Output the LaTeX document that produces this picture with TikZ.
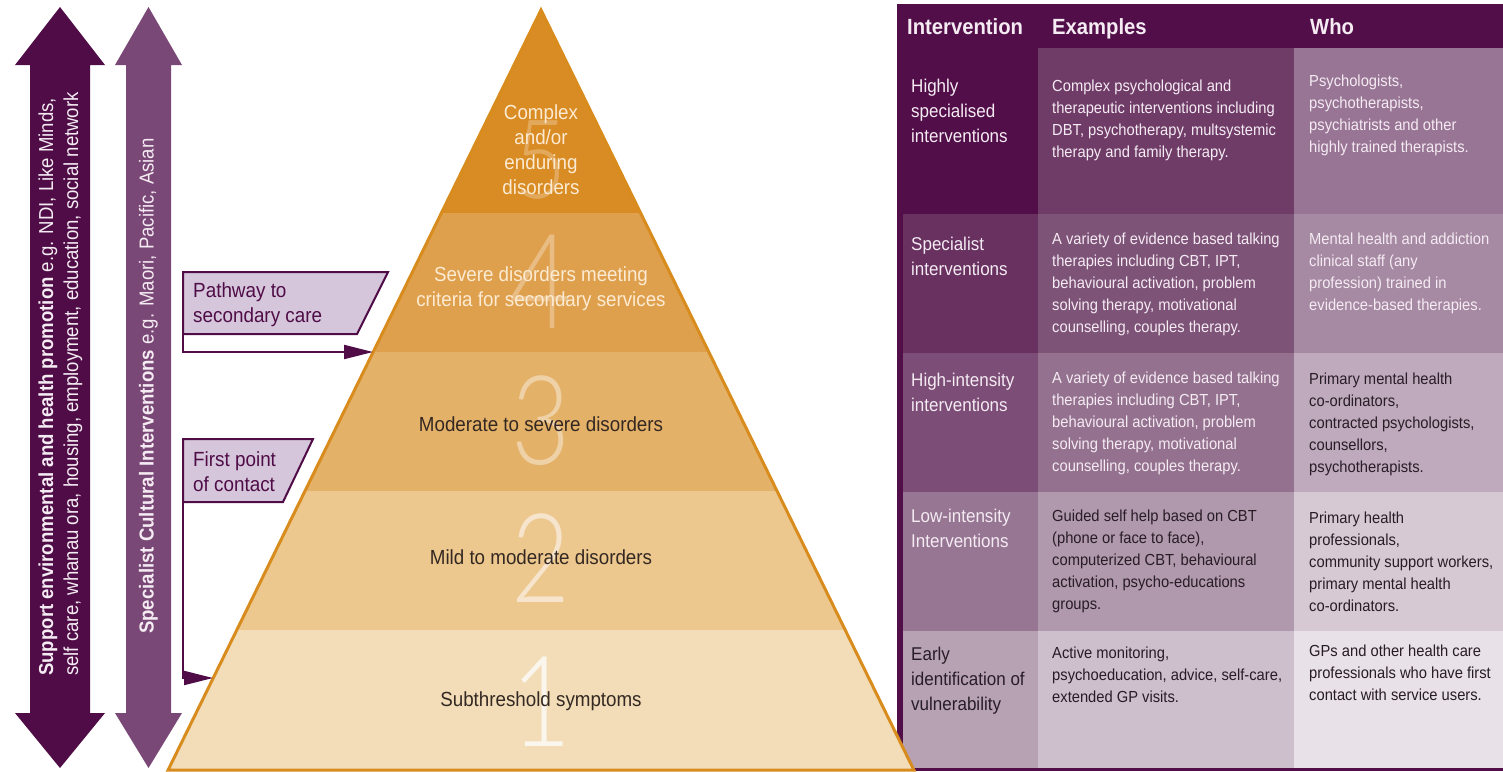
\documentclass[tikz,border=0pt]{standalone}
\usepackage{fontspec}
\setmainfont{Liberation Sans}[FakeStretch=0.92]
\IfFontExistsTF{Lato Light}{\newfontfamily\digitfont{Lato Light}[FakeStretch=0.82]}{%
  \IfFontExistsTF{Fira Sans Light}{\newfontfamily\digitfont{Fira Sans Light}[FakeStretch=0.82]}{%
    \IfFontExistsTF{Open Sans Light}{\newfontfamily\digitfont{Open Sans Light}[FakeStretch=0.82]}{%
      \newfontfamily\digitfont{Liberation Sans}[FakeStretch=0.8]}}}
\usetikzlibrary{arrows.meta}
\definecolor{arrA}{RGB}{79,12,71}
\definecolor{arrB}{RGB}{122,72,118}
\definecolor{boxfill}{RGB}{213,198,219}
\definecolor{boxline}{RGB}{79,12,71}
\definecolor{pyrL5}{RGB}{217,139,36}
\definecolor{pyrL4}{RGB}{223,160,78}
\definecolor{pyrL3}{RGB}{228,177,105}
\definecolor{pyrL2}{RGB}{236,199,142}
\definecolor{pyrL1}{RGB}{242,221,184}
\definecolor{pyrline}{RGB}{217,140,30}
\definecolor{pyrlight}{RGB}{252,235,210}
\definecolor{pyrdark}{RGB}{52,40,34}
\definecolor{hdr}{RGB}{82,14,73}
\definecolor{rAa}{RGB}{82,14,73}
\definecolor{rAb}{RGB}{111,60,104}
\definecolor{rAc}{RGB}{152,117,148}
\definecolor{rBa}{RGB}{104,49,96}
\definecolor{rBb}{RGB}{126,83,120}
\definecolor{rBc}{RGB}{166,137,162}
\definecolor{rCa}{RGB}{124,77,118}
\definecolor{rCb}{RGB}{148,114,143}
\definecolor{rCc}{RGB}{190,170,188}
\definecolor{rDa}{RGB}{151,118,147}
\definecolor{rDb}{RGB}{176,152,173}
\definecolor{rDc}{RGB}{214,201,212}
\definecolor{rEa}{RGB}{183,162,180}
\definecolor{rEb}{RGB}{205,191,203}
\definecolor{rEc}{RGB}{232,225,231}
\definecolor{tlight}{RGB}{245,235,243}
\definecolor{tdark}{RGB}{40,28,38}
\begin{document}
\begin{tikzpicture}[x=1pt,y=-1pt,
  cellA/.style={anchor=north west, inner sep=0pt, align=left, font=\fontsize{18.5}{25}\selectfont},
  cellB/.style={anchor=north west, inner sep=0pt, align=left, font=\fontsize{16}{22}\selectfont},
  hdrtext/.style={anchor=base west, inner sep=0pt, text=tlight, font=\fontsize{22}{24}\selectfont\bfseries},
  pyrtext/.style={inner sep=0pt, align=center, font=\fontsize{20.4}{25}\selectfont},
  bigdigit/.style={inner sep=0pt, text=white, font=\digitfont\fontsize{#1}{#1}\selectfont},
  sidetext/.style={rotate=90, anchor=west, inner sep=0pt, align=left, text=tlight, font=\fontsize{20.2}{25}\selectfont},
  tagbox/.style={fill=boxfill, draw=boxline, line width=2pt},
  tagtext/.style={anchor=north west, inner sep=0pt, align=left, text=boxline, font=\fontsize{20.5}{25}\selectfont},
  pathline/.style={draw=boxline, line width=2pt, -{Triangle[length=29pt,width=14pt]}}
]
\useasboundingbox (0,0) rectangle (1503,771);

% ---------- left vertical double arrows ----------
\fill[arrA] (60,7) -- (105,65) -- (90,65) -- (90,713) -- (105,713) -- (60,768)
  -- (15,713) -- (30,713) -- (30,65) -- (15,65) -- cycle;
\fill[arrB] (148.5,7) -- (182,65) -- (171,65) -- (171,713) -- (182,713) -- (148.5,768)
  -- (115,713) -- (126,713) -- (126,65) -- (115,65) -- cycle;
\node[sidetext] (sideA) at (60.5,676) {\textbf{Support environmental and health promotion} e.g. NDI, Like Minds,\\self care, whanau ora, housing, employment, education, social network};
\node[sidetext] (sideB) at (148.5,634) {\textbf{Specialist Cultural Interventions} e.g. Maori, Pacific, Asian};

% ---------- table ----------
\fill[hdr] (897,4) rectangle (1503,48);
\fill[rAa] (897,48) rectangle (1038,214);
\fill[rAb] (1038,48) rectangle (1294,214);
\fill[rAc] (1294,48) rectangle (1503,214);
\fill[rBa] (897,214) rectangle (1038,353);
\fill[rBb] (1038,214) rectangle (1294,353);
\fill[rBc] (1294,214) rectangle (1503,353);
\fill[rCa] (897,353) rectangle (1038,492);
\fill[rCb] (1038,353) rectangle (1294,492);
\fill[rCc] (1294,353) rectangle (1503,492);
\fill[rDa] (897,492) rectangle (1038,631);
\fill[rDb] (1038,492) rectangle (1294,631);
\fill[rDc] (1294,492) rectangle (1503,631);
\fill[rEa] (897,631) rectangle (1038,768);
\fill[rEb] (1038,631) rectangle (1294,768);
\fill[rEc] (1294,631) rectangle (1503,768);
\fill[hdr] (897,4) rectangle (903,771);
\fill[hdr] (897,768) rectangle (1503,771);

\node[hdrtext] (h1) at (907,34) {Intervention};
\node[hdrtext] (h2) at (1052,34) {Examples};
\node[hdrtext] (h3) at (1310,34) {Who};

\node[cellA, text=tlight] (r1c1) at (911,79) {Highly\\specialised\\interventions};
\node[cellB, text=tlight] (r1c2) at (1052,80) {Complex psychological and\\therapeutic interventions including\\DBT, psychotherapy, multsystemic\\therapy and family therapy.};
\node[cellB, text=tlight] (r1c3) at (1309,75) {Psychologists,\\psychotherapists,\\psychiatrists and other\\highly trained therapists.};

\node[cellA, text=tlight] (r2c1) at (911,237) {Specialist\\interventions};
\node[cellB, text=tlight] (r2c2) at (1052,233) {A variety of evidence based talking\\therapies including CBT, IPT,\\behavioural activation, problem\\solving therapy, motivational\\counselling, couples therapy.};
\node[cellB, text=tlight] (r2c3) at (1309,233) {Mental health and addiction\\clinical staff (any\\profession) trained in\\evidence-based therapies.};

\node[cellA, text=tlight] (r3c1) at (911,373) {High-intensity\\interventions};
\node[cellB, text=tlight] (r3c2) at (1052,372) {A variety of evidence based talking\\therapies including CBT, IPT,\\behavioural activation, problem\\solving therapy, motivational\\counselling, couples therapy.};
\node[cellB, text=tdark] (r3c3) at (1309,373) {Primary mental health\\co-ordinators,\\contracted psychologists,\\counsellors,\\psychotherapists.};

\node[cellA, text=tlight] (r4c1) at (911,509) {Low-intensity\\Interventions};
\node[cellB, text=tdark] (r4c2) at (1052,510) {Guided self help based on CBT\\(phone or face to face),\\computerized CBT, behavioural\\activation, psycho-educations\\groups.};
\node[cellB, text=tdark] (r4c3) at (1309,512) {Primary health\\professionals,\\community support workers,\\primary mental health\\co-ordinators.};

\node[cellA, text=tdark] (r5c1) at (911,647) {Early\\identification of\\vulnerability};
\node[cellB, text=tdark] (r5c2) at (1052,647) {Active monitoring,\\psychoeducation, advice, self-care,\\extended GP visits.};
\node[cellB, text=tdark] (r5c3) at (1309,645) {GPs and other health care\\professionals who have first\\contact with service users.};

% ---------- pyramid ----------
\fill[pyrL5] (541,10) -- (640.5,213) -- (441.5,213) -- cycle;
\fill[pyrL4] (441.5,213) -- (640.5,213) -- (708.6,352) -- (373.4,352) -- cycle;
\fill[pyrL3] (373.4,352) -- (708.6,352) -- (776.7,491) -- (305.3,491) -- cycle;
\fill[pyrL2] (305.3,491) -- (776.7,491) -- (844.8,630) -- (237.2,630) -- cycle;
\fill[pyrL1] (237.2,630) -- (844.8,630) -- (913.9,770) -- (168.1,770) -- cycle;

\node[bigdigit=110, opacity=0.26] (d5) at (541,160) {5};
\node[bigdigit=132, opacity=0.3] (d4) at (541,282) {4};
\node[bigdigit=124, opacity=0.42] (d3) at (541,421) {3};
\node[bigdigit=124, opacity=0.55] (d2) at (541,558) {2};
\node[bigdigit=126, opacity=0.75] (d1) at (541,702) {1};

\draw[pyrline, line width=3pt, line join=miter] (541,10) -- (913.9,770) -- (168.1,770) -- cycle;

\node[pyrtext, text=pyrlight] (t5) at (541,150) {Complex\\and/or\\enduring\\disorders};
\node[pyrtext, text=pyrlight] (t4) at (541,289) {Severe disorders meeting\\criteria for secondary services};
\node[pyrtext, text=pyrdark] (t3) at (541,424) {Moderate to severe disorders};
\node[pyrtext, text=pyrdark] (t2) at (541,557) {Mild to moderate disorders};
\node[pyrtext, text=pyrdark] (t1) at (541,701) {Subthreshold symptoms};

% ---------- pathway tags ----------
\draw[tagbox] (183,272) -- (388,272) -- (357,334) -- (183,334) -- cycle;
\node[tagtext] (tagA) at (193,282) {Pathway to\\secondary care};
\coordinate (tagAfoot) at (183,334);
\coordinate (lvl4) at (373,352);
\draw[pathline] (tagAfoot) |- (lvl4);

\draw[tagbox] (183,439) -- (313,439) -- (283,502) -- (183,502) -- cycle;
\node[tagtext] (tagB) at (193,451) {First point\\of contact};
\coordinate (tagBfoot) at (183,502);
\coordinate (lvl1) at (213,678);
\draw[pathline] (tagBfoot) |- (lvl1);
\end{tikzpicture}
\end{document}
